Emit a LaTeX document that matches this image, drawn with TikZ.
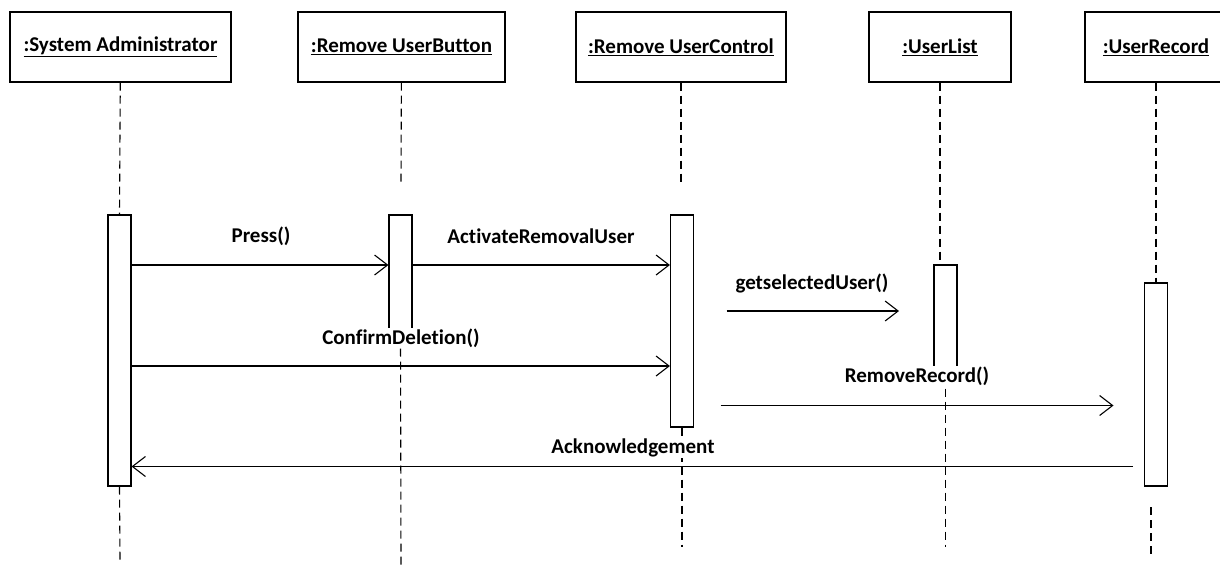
\documentclass[tikz,border=0pt]{standalone}
\usepackage{fontspec}
\setmainfont{Carlito}[RawFeature=-liga]
\usetikzlibrary{arrows.meta,positioning}

\begin{document}
\begin{tikzpicture}[x=1pt,y=-1pt,>={Straight Barb[length=13pt,width=20pt]},line width=1.1pt,
  every node/.style={font=\fontsize{21}{22}\selectfont\bfseries},
  object/.style={draw,minimum height=70pt,inner sep=0pt},
  activation/.style={draw,fill=white,minimum width=23pt,inner sep=0pt},
  lifeline/.style={dash pattern=on 8pt off 5pt},
  msglabel/.style={fill=white,inner sep=1pt}]
      \useasboundingbox (0,0) rectangle (1220,566);
      \clip (0,0) rectangle (1220,566);

      % objects
      \node[object,minimum width=221pt] (sa) at (120.5,47) {\underline{:System Administrator}};
      \node[object,minimum width=207pt] (rb) at (401.5,47) {\underline{:Remove UserButton}};
      \node[object,minimum width=210pt] (rc) at (681,47) {\underline{:Remove UserControl}};
      \node[object,minimum width=142pt] (ul) at (940,47) {\underline{:UserList}};
      \node[object,minimum width=142pt] (ur) at (1156,47) {\underline{:UserRecord}};

      % lifelines
      \coordinate (sa-end) at (120,560);
      \coordinate (rb-top) at (401,183);
      \coordinate (rb-end) at (401,565);
      \coordinate (rc-top) at (681,183);
      \coordinate (rc-end) at (682,547);
      \coordinate (ul-end) at (945.5,547);
      \coordinate (ur-beg) at (1151,507);
      \coordinate (ur-end) at (1151,555);

      % activation boxes
      \node[activation,minimum height=271pt] (sa-act) at (119.5,350.5) {};
      \node[activation,minimum height=120pt] (rb-act) at (400.5,275) {};
      \node[activation,minimum height=212pt] (rc-act) at (682,321) {};
      \node[activation,minimum height=110pt] (ul-act) at (945.5,320) {};
      \node[activation,minimum height=203pt] (ur-act) at (1156,384.5) {};

      \path[lifeline]
      (sa) edge (sa-act.north)
      (sa-act.south) edge (sa-end)
      (rb) edge (rb-top)
      (rb-act.south) edge (rb-end)
      (rc) edge (rc-top)
      (rc-act.south) edge (rc-end)
      (ul) edge (ul.south |- ul-act.north)
      (ul-act.south) edge (ul-end)
      (ur) edge (ur-act.north)
      (ur-beg) edge (ur-end);

      % message rows
      \coordinate (m1) at (0,265);
      \coordinate (m3) at (0,366);
      \coordinate (m5) at (0,466.5);
      \coordinate (gs-beg) at (726.5,311);
      \coordinate (gs-end) at (899,311);
      \coordinate (rr-beg) at (720.5,405.5);
      \coordinate (rr-end) at (1113.5,405.5);
      \coordinate (ak-beg) at (1133,466.5);

      \path[->]
      (sa-act.east |- m1) edge (rb-act.west |- m1)
      (rb-act.east |- m1) edge (rc-act.west |- m1)
      (gs-beg) edge (gs-end)
      (sa-act.east |- m3) edge (rc-act.west |- m3)
      (rr-beg) edge (rr-end)
      (ak-beg) edge (sa-act.east |- m5);

      % message labels
      \node[msglabel] (press) at (261,236) {Press()};
      \node[msglabel] (activate) at (541,236) {ActivateRemovalUser};
      \node[msglabel] (getsel) at (812,283) {getselectedUser()};
      \node[msglabel] (confirm) at (401,338) {ConfirmDeletion()};
      \node[msglabel] (remove) at (917,376) {RemoveRecord()};
      \node[msglabel] (ack) at (633,448) {Acknowledgement};

    \end{tikzpicture}
\end{document}
